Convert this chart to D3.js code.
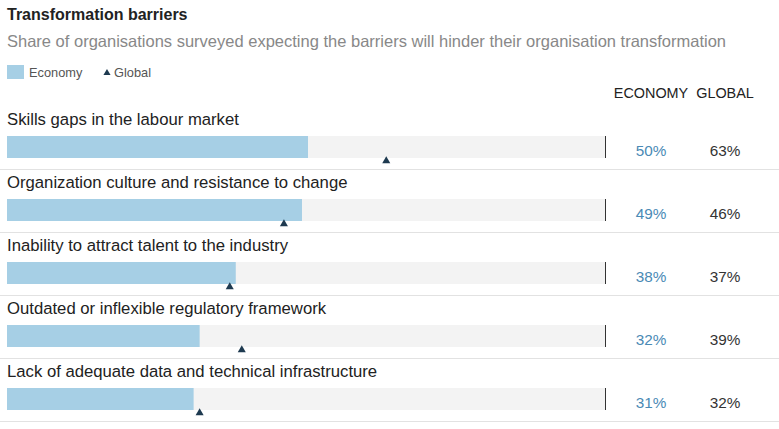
<!DOCTYPE html>
<html><head><meta charset="utf-8">
<script src="https://cdn.jsdelivr.net/npm/d3@7"></script>
<style>body{margin:0;background:#fff;font-family:"Liberation Sans",Arial,sans-serif}</style>
</head><body><svg width="779" height="429"></svg>
<script>
const categories = ["Skills gaps in the labour market","Organization culture and resistance to change","Inability to attract talent to the industry","Outdated or inflexible regulatory framework","Lack of adequate data and technical infrastructure"]
const economy = [50, 49, 38, 32, 31]
const global = [63, 46, 37, 39, 32]

const svg = d3.select('svg')
const x = d3.scaleLinear().domain([0, 100]).range([7, 609])
const y = d3.scaleBand().domain(categories).range([104, 419]).padding(0)

svg.append('text').attr('x', 7).attr('y', 20).attr('font-size', 16).attr('font-weight', 'bold').attr('fill', '#222').text('Transformation barriers')
svg.append('text').attr('x', 7).attr('y', 47).attr('font-size', 16.5).attr('fill', '#888').text('Share of organisations surveyed expecting the barriers will hinder their organisation transformation')

svg.append('rect').attr('x', 7).attr('y', 65).attr('width', 17).attr('height', 14).attr('fill', '#a6cfe5')
svg.append('text').attr('x', 29).attr('y', 77).attr('font-size', 12.8).attr('fill', '#555').text('Economy')
svg.append('path').attr('d', d3.symbol(d3.symbolTriangle, 22)()).attr('transform', 'translate(107,73)').attr('fill', '#1e3a50')
svg.append('text').attr('x', 114).attr('y', 77).attr('font-size', 12.8).attr('fill', '#555').text('Global')

svg.append('text').attr('x', 651).attr('y', 98).attr('text-anchor', 'middle').attr('font-size', 14.4).attr('fill', '#222').text('ECONOMY')
svg.append('text').attr('x', 725).attr('y', 98).attr('text-anchor', 'middle').attr('font-size', 14.4).attr('fill', '#222').text('GLOBAL')

const rows = svg.selectAll('g.row').data(categories).enter().append('g')
  .attr('transform', d => `translate(0,${y(d)})`)

rows.append('text').attr('x', 7).attr('y', 21).attr('font-size', 16.7).attr('fill', '#222').text(d => d)
rows.append('rect').attr('x', x(0)).attr('y', 32).attr('width', x(100) - x(0) - 4).attr('height', 22).attr('fill', '#f3f3f3')
rows.append('line').attr('x1', 605.5).attr('x2', 605.5).attr('y1', 32).attr('y2', 54).attr('stroke', '#333').attr('stroke-width', 1)
rows.append('rect').attr('x', x(0)).attr('y', 32).attr('height', 22)
  .attr('width', (d, i) => x(economy[i]) - x(0)).attr('fill', '#a6cfe5')
rows.append('path').attr('d', d3.symbol(d3.symbolTriangle, 28)())
  .attr('transform', (d, i) => `translate(${x(global[i])},${57})`).attr('fill', '#1e3a50')
rows.append('text').attr('x', 651).attr('y', 52).attr('text-anchor', 'middle').attr('font-size', 15.3).attr('fill', '#4a8ab5').text((d, i) => economy[i] + '%')
rows.append('text').attr('x', 725).attr('y', 52).attr('text-anchor', 'middle').attr('font-size', 15.3).attr('fill', '#333').text((d, i) => global[i] + '%')
rows.append('line').attr('x1', 0).attr('x2', 779).attr('y1', 65.5).attr('y2', 65.5).attr('stroke', '#e2e2e2')
</script></body></html>
